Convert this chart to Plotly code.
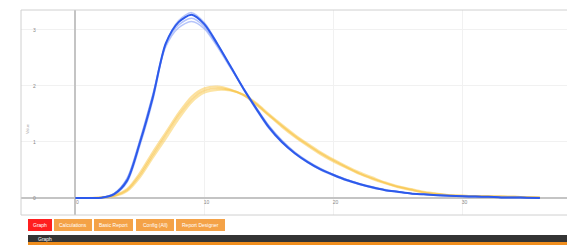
import plotly.graph_objects as go

# ---- data ----
X_PTS = list(range(0, 37))

BLUE_A = [0, 0, 0.005, 0.07, 0.31, 0.99, 1.80, 2.76, 3.14, 3.27, 3.10, 2.75, 2.36, 1.96, 1.60, 1.26, 1.00, 0.80, 0.64,
          0.51, 0.41, 0.32, 0.25, 0.19, 0.14, 0.11, 0.08, 0.065, 0.05, 0.04, 0.03, 0.025, 0.02, 0.01, 0.01, 0.005, 0]
BLUE_B = [0, 0, 0.005, 0.08, 0.35, 1.04, 1.85, 2.74, 3.09, 3.21, 3.06, 2.73, 2.35, 1.97, 1.61, 1.28, 1.02, 0.81, 0.65,
          0.52, 0.42, 0.33, 0.25, 0.19, 0.14, 0.11, 0.08, 0.065, 0.05, 0.04, 0.03, 0.025, 0.02, 0.01, 0.01, 0.005, 0]
BLUE_C = [0, 0, 0.005, 0.06, 0.28, 0.94, 1.75, 2.75, 3.17, 3.31, 3.13, 2.76, 2.35, 1.95, 1.58, 1.24, 0.99, 0.79, 0.63,
          0.50, 0.40, 0.31, 0.24, 0.18, 0.14, 0.10, 0.08, 0.06, 0.05, 0.04, 0.03, 0.025, 0.02, 0.01, 0.01, 0.005, 0]
BLUE_D = [0, 0, 0.005, 0.08, 0.34, 1.02, 1.84, 2.70, 3.04, 3.15, 3.02, 2.70, 2.33, 1.97, 1.62, 1.29, 1.03, 0.82, 0.66,
          0.53, 0.42, 0.33, 0.26, 0.20, 0.15, 0.11, 0.08, 0.065, 0.05, 0.04, 0.03, 0.025, 0.02, 0.01, 0.01, 0.005, 0]

YEL_A = [0, 0, 0.01, 0.04, 0.14, 0.41, 0.77, 1.12, 1.47, 1.76, 1.92, 1.96, 1.93, 1.84, 1.68, 1.48, 1.29, 1.11, 0.95,
         0.80, 0.67, 0.55, 0.44, 0.35, 0.27, 0.20, 0.15, 0.10, 0.07, 0.05, 0.04, 0.035, 0.03, 0.025, 0.02, 0.015, 0.01]
YEL_B = [0, 0, 0.01, 0.05, 0.16, 0.45, 0.82, 1.17, 1.52, 1.81, 1.96, 1.99, 1.94, 1.84, 1.67, 1.47, 1.27, 1.09, 0.93,
         0.78, 0.65, 0.54, 0.43, 0.34, 0.26, 0.19, 0.14, 0.10, 0.07, 0.05, 0.04, 0.035, 0.03, 0.025, 0.02, 0.015, 0.01]
YEL_C = [0, 0, 0.01, 0.03, 0.12, 0.37, 0.72, 1.06, 1.41, 1.71, 1.88, 1.93, 1.92, 1.85, 1.70, 1.50, 1.31, 1.13, 0.97,
         0.82, 0.69, 0.57, 0.46, 0.37, 0.28, 0.21, 0.16, 0.11, 0.08, 0.05, 0.04, 0.035, 0.03, 0.025, 0.02, 0.015, 0.01]

X_TICKS = [0, 10, 20, 30]
Y_TICKS = [0, 1, 2, 3]
BUTTONS = ["Graph", "Calculations", "Basic Report", "Config (All)", "Report Designer"]
TAB_TITLE = "Graph"
Y_TITLE = "Value"

W, H = 567, 249


def px(x):
    return x / W


def py(y):
    return 1 - y / H


fig = go.Figure()

for ys, col, wd in [
    (YEL_C, "rgba(250,205,90,0.55)", 2),
    (YEL_B, "rgba(250,200,80,0.55)", 2),
    (YEL_A, "rgba(248,195,70,0.6)", 2),
]:
    fig.add_trace(go.Scatter(x=X_PTS, y=ys, mode="lines",
                             line=dict(color=col, width=wd, shape="spline", smoothing=0.8),
                             hoverinfo="skip", showlegend=False))

for ys, col, wd in [
    (BLUE_C, "rgba(90,125,245,0.45)", 1.5),
    (BLUE_B, "rgba(90,125,245,0.45)", 1.5),
    (BLUE_D, "rgba(90,125,245,0.45)", 1.5),
    (BLUE_A, "rgb(45,90,235)", 2),
]:
    fig.add_trace(go.Scatter(x=X_PTS, y=ys, mode="lines",
                             line=dict(color=col, width=wd, shape="spline", smoothing=0.8),
                             hoverinfo="skip", showlegend=False))

shapes = []
# frame lines
shapes.append(dict(type="line", xref="paper", yref="paper", x0=px(21), x1=1, y0=py(10), y1=py(10),
                   line=dict(color="#d0d0d0", width=1)))
shapes.append(dict(type="line", xref="paper", yref="paper", x0=px(21), x1=px(21), y0=py(10), y1=py(215),
                   line=dict(color="#d0d0d0", width=1)))
shapes.append(dict(type="line", xref="paper", yref="paper", x0=px(21), x1=1, y0=py(215), y1=py(215),
                   line=dict(color="#d0d0d0", width=1)))

# buttons
btn_x = [(28, 52), (54, 92), (94, 133), (136, 174), (176, 225)]
annotations = []
for i, (name, (a, b)) in enumerate(zip(BUTTONS, btn_x)):
    col = "#ff1f1f" if i == 0 else "#f4a247"
    shapes.append(dict(type="rect", xref="paper", yref="paper", x0=px(a), x1=px(b), y0=py(231), y1=py(219),
                       fillcolor=col, line=dict(width=0)))
    annotations.append(dict(xref="paper", yref="paper", x=px((a + b) / 2), y=py(225), text=name,
                            showarrow=False, font=dict(size=5, color="white", family="Liberation Sans"),
                            xanchor="center", yanchor="middle"))

# dark tab bar
shapes.append(dict(type="rect", xref="paper", yref="paper", x0=px(28), x1=1, y0=py(242), y1=py(235),
                   fillcolor="#343434", line=dict(width=0)))
shapes.append(dict(type="rect", xref="paper", yref="paper", x0=px(28), x1=1, y0=py(245), y1=py(242),
                   fillcolor="#f08e1e", line=dict(width=0)))
annotations.append(dict(xref="paper", yref="paper", x=px(36), y=py(238.5), text=TAB_TITLE,
                        showarrow=False, font=dict(size=5, color="white", family="Liberation Sans"),
                        xanchor="left", yanchor="middle"))
annotations.append(dict(xref="paper", yref="paper", x=px(27), y=py(129), text=Y_TITLE, textangle=-90,
                        showarrow=False, font=dict(size=4, color="#aaaaaa", family="Liberation Sans"),
                        xanchor="center", yanchor="middle"))

fig.update_layout(
    width=W, height=H,
    margin=dict(l=0, r=0, t=0, b=0),
    paper_bgcolor="white", plot_bgcolor="white",
    shapes=shapes, annotations=annotations,
    showlegend=False,
    xaxis=dict(domain=[px(21), 1], range=[-4.22, 38.1],
               anchor="free", position=py(198),
               tickvals=X_TICKS, ticktext=[str(v) for v in X_TICKS],
               showgrid=True, gridcolor="#f1f1f1", gridwidth=1,
               zeroline=True, zerolinecolor="#c4c4c4", zerolinewidth=2,
               showline=False, ticks="", ticklabelshift=2, ticklabelstandoff=0,
               tickfont=dict(size=5, color="#888888", family="Liberation Sans")),
    yaxis=dict(domain=[py(215), py(10)], range=[-0.304, 3.357],
               tickvals=Y_TICKS, ticktext=[str(v) for v in Y_TICKS],
               showgrid=True, gridcolor="#f1f1f1", gridwidth=1,
               zeroline=True, zerolinecolor="#c4c4c4", zerolinewidth=2,
               showline=False, ticks="", ticklabelposition="inside", ticklabelstandoff=9,
               tickfont=dict(size=5, color="#888888", family="Liberation Sans")),
)

fig.write_html("out.html", config={"displayModeBar": False},
               post_script="document.body.style.margin='0';document.body.style.overflow='hidden';")
